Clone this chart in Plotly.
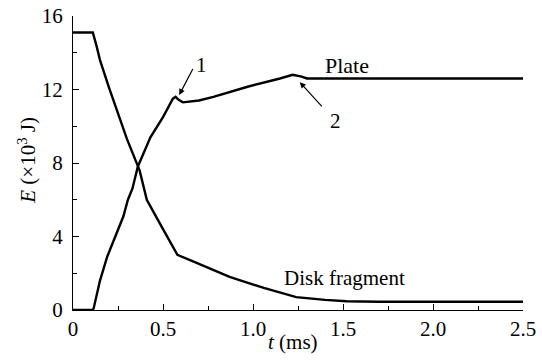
import plotly.graph_objects as go

# Disk fragment kinetic energy (x10^3 J) vs time (ms)
disk_t = [0, 0.11, 0.13, 0.15, 0.2, 0.25, 0.3, 0.37, 0.41, 0.5, 0.58, 0.69,
          0.87, 1.06, 1.24, 1.4, 1.52, 1.7, 2.0, 2.5]
disk_e = [15.1, 15.1, 14.4, 13.6, 12.1, 10.7, 9.3, 7.6, 6.0, 4.4, 3.0, 2.55,
          1.8, 1.2, 0.7, 0.55, 0.48, 0.45, 0.45, 0.45]

# Plate energy (x10^3 J) vs time (ms)
plate_t = [0, 0.11, 0.115, 0.15, 0.19, 0.245, 0.28, 0.305, 0.33, 0.36, 0.43,
           0.5, 0.555, 0.57, 0.585, 0.61, 0.7, 0.78, 0.97, 1.15, 1.22, 1.27,
           1.3, 1.5, 2.0, 2.5]
plate_e = [0, 0, 0.1, 1.6, 2.9, 4.2, 5.1, 6.0, 6.6, 7.8, 9.4,
           10.5, 11.5, 11.6, 11.45, 11.3, 11.4, 11.6, 12.15, 12.6, 12.8, 12.7,
           12.6, 12.6, 12.6, 12.6]

x_ticks = [0, 0.5, 1.0, 1.5, 2.0, 2.5]
x_tick_text = ["0", "0.5", "1.0", "1.5", "2.0", "2.5"]
y_ticks = [0, 4, 8, 12, 16]
y_tick_text = ["0", "4", "8", "12", "16"]

FONT = "Liberation Serif, Times New Roman, serif"
FS = 21

fig = go.Figure()
fig.add_trace(go.Scatter(x=disk_t, y=disk_e, mode="lines",
                         line=dict(color="black", width=2.4),
                         name="Disk fragment", showlegend=False))
fig.add_trace(go.Scatter(x=plate_t, y=plate_e, mode="lines",
                         line=dict(color="black", width=2.4),
                         name="Plate", showlegend=False))

# curve labels
fig.add_annotation(x=1.52, y=13.3, text="Plate", showarrow=False,
                   font=dict(family=FONT, size=FS + 1, color="black"))
fig.add_annotation(x=1.51, y=1.75, text="Disk fragment", showarrow=False,
                   font=dict(family=FONT, size=FS, color="black"))

# numbered markers with arrows
fig.add_annotation(x=0.59, y=11.7, ax=0.67, ay=13.2, axref="x", ayref="y",
                   showarrow=True, arrowhead=2, arrowsize=1, arrowwidth=1.2,
                   arrowcolor="black", text="")
fig.add_annotation(x=0.715, y=13.35, text="1", showarrow=False,
                   font=dict(family=FONT, size=FS, color="black"))
fig.add_annotation(x=1.26, y=12.4, ax=1.39, ay=11.0, axref="x", ayref="y",
                   showarrow=True, arrowhead=2, arrowsize=1, arrowwidth=1.2,
                   arrowcolor="black", text="")
fig.add_annotation(x=1.46, y=10.3, text="2", showarrow=False,
                   font=dict(family=FONT, size=FS, color="black"))

# axis titles
fig.add_annotation(x=0.489, y=-0.108, xref="paper", yref="paper",
                   xanchor="center", yanchor="middle",
                   text="<i>t</i> (ms)", showarrow=False,
                   font=dict(family=FONT, size=FS, color="black"))
fig.add_annotation(x=-0.103, y=0.51, xref="paper", yref="paper",
                   xanchor="center", yanchor="middle",
                   text="<i>E</i> (×10<sup>3</sup> J)", showarrow=False,
                   textangle=-90,
                   font=dict(family=FONT, size=FS, color="black"))

axis_common = dict(
    showline=True, linecolor="black", linewidth=1.3, mirror=False,
    showgrid=False, zeroline=False, ticks="inside", ticklen=6,
    tickwidth=1.2, tickcolor="black", automargin=False,
    tickfont=dict(family=FONT, size=FS, color="black"),
)

fig.update_xaxes(range=[0, 2.5], tickvals=x_ticks, ticktext=x_tick_text,
                 ticklabelstandoff=0,
                 minor=dict(dtick=0.25, ticks="inside", ticklen=4,
                            tickwidth=1.2, tickcolor="black"),
                 **axis_common)
fig.update_yaxes(range=[0, 16], tickvals=y_ticks, ticktext=y_tick_text,
                 ticklabelstandoff=5,
                 minor=dict(dtick=2, ticks="inside", ticklen=4,
                            tickwidth=1.2, tickcolor="black"),
                 **axis_common)

fig.update_layout(width=542, height=360,
                  margin=dict(l=73, r=19, t=16, b=50),
                  plot_bgcolor="white", paper_bgcolor="white")

fig.write_html("out.html")
